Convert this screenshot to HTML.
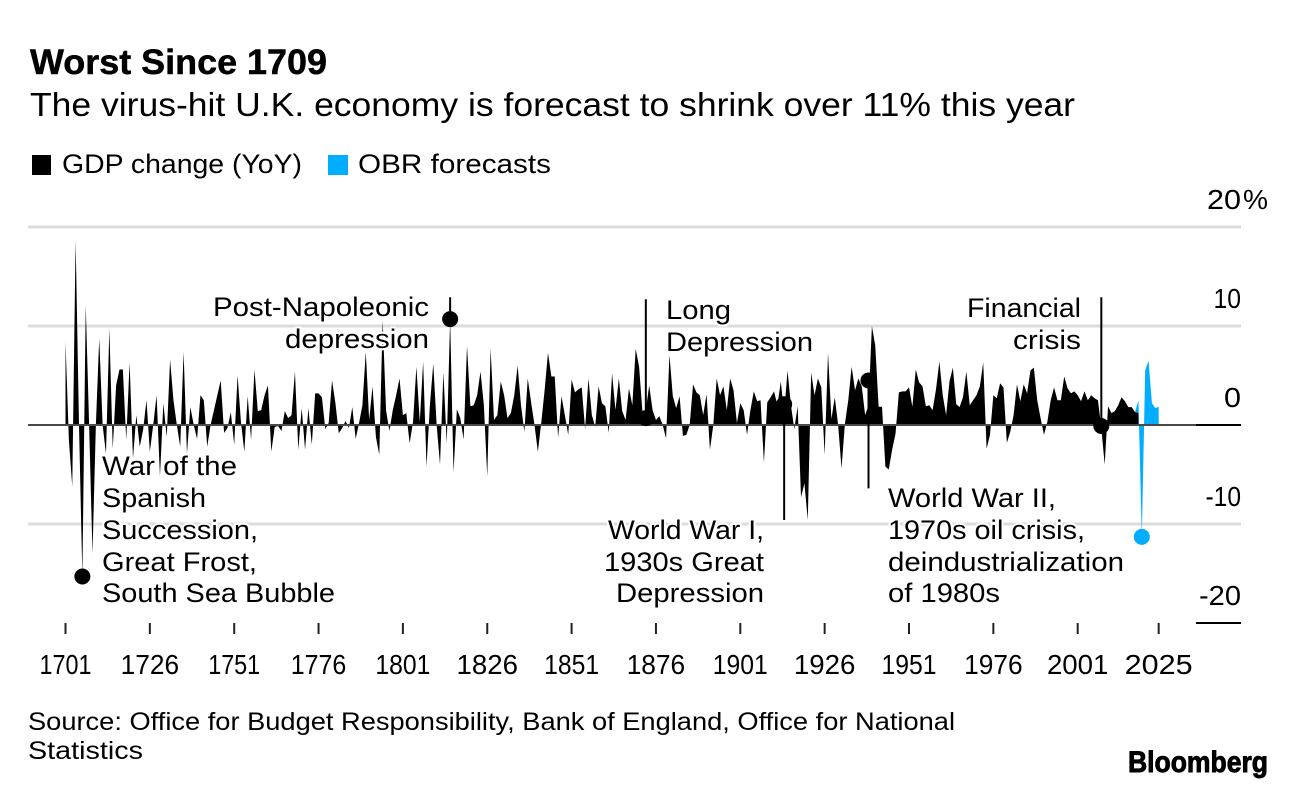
<!DOCTYPE html>
<html lang="en">
<head>
<meta charset="utf-8">
<title>Worst Since 1709</title>
<style>
html,body{margin:0;padding:0;background:#fff;width:1296px;height:790px;overflow:hidden}
svg{display:block}
text{font-family:"Liberation Sans",sans-serif;fill:#000}
.ttl{font-size:35.5px;font-weight:700;stroke:#000;stroke-width:.5px}
.sub{font-size:33px}
.lab{font-size:27px}
.tick{font-size:28px}
.src{font-size:25px}
.ann{font-size:27px;paint-order:stroke;stroke:#fff;stroke-width:4px;stroke-linejoin:round}
.logo{font-size:30px;font-weight:700;stroke:#000;stroke-width:.9px}
</style>
</head>
<body>
<svg id="chart" width="1296" height="790" viewBox="0 0 1296 790" xmlns="http://www.w3.org/2000/svg">
  <text class="ttl" x="30" y="74" textLength="297" lengthAdjust="spacingAndGlyphs">Worst Since 1709</text>
  <text class="sub" x="30" y="116" textLength="1045" lengthAdjust="spacingAndGlyphs">The virus-hit U.K. economy is forecast to shrink over 11% this year</text>

  <rect x="32" y="155" width="19" height="20" fill="#000"/>
  <text class="lab" x="62" y="173" textLength="240" lengthAdjust="spacingAndGlyphs">GDP change (YoY)</text>
  <rect x="328" y="155" width="20" height="20" fill="#00adff"/>
  <text class="lab" x="358" y="173" textLength="193" lengthAdjust="spacingAndGlyphs">OBR forecasts</text>

  <g id="grid"></g>
  <g id="marks"></g>
  <g id="xaxis"></g>
  <g id="yaxis"></g>
  <g id="notes"></g>

  <g text-anchor="end">
    <text class="ann" x="429" y="316" textLength="216" lengthAdjust="spacingAndGlyphs">Post-Napoleonic</text>
    <text class="ann" x="429" y="348" textLength="144" lengthAdjust="spacingAndGlyphs">depression</text>
  </g>
  <g>
    <text class="ann" x="666" y="319" textLength="65" lengthAdjust="spacingAndGlyphs">Long</text>
    <text class="ann" x="666" y="351" textLength="147" lengthAdjust="spacingAndGlyphs">Depression</text>
  </g>
  <g text-anchor="end">
    <text class="ann" x="1081" y="317" textLength="114" lengthAdjust="spacingAndGlyphs">Financial</text>
    <text class="ann" x="1081" y="349" textLength="68" lengthAdjust="spacingAndGlyphs">crisis</text>
  </g>
  <g>
    <text class="ann" x="102" y="475" textLength="135" lengthAdjust="spacingAndGlyphs">War of the</text>
    <text class="ann" x="102" y="507" textLength="104" lengthAdjust="spacingAndGlyphs">Spanish</text>
    <text class="ann" x="102" y="539" textLength="156" lengthAdjust="spacingAndGlyphs">Succession,</text>
    <text class="ann" x="102" y="571" textLength="155" lengthAdjust="spacingAndGlyphs">Great Frost,</text>
    <text class="ann" x="102" y="602" textLength="233" lengthAdjust="spacingAndGlyphs">South Sea Bubble</text>
  </g>
  <g text-anchor="end">
    <text class="ann" x="764" y="539" textLength="156" lengthAdjust="spacingAndGlyphs">World War I,</text>
    <text class="ann" x="764" y="571" textLength="160" lengthAdjust="spacingAndGlyphs">1930s Great</text>
    <text class="ann" x="764" y="602" textLength="148" lengthAdjust="spacingAndGlyphs">Depression</text>
  </g>
  <g>
    <text class="ann" x="888" y="507" textLength="168" lengthAdjust="spacingAndGlyphs">World War II,</text>
    <text class="ann" x="888" y="539" textLength="197" lengthAdjust="spacingAndGlyphs">1970s oil crisis,</text>
    <text class="ann" x="888" y="571" textLength="236" lengthAdjust="spacingAndGlyphs">deindustrialization</text>
    <text class="ann" x="888" y="602" textLength="112" lengthAdjust="spacingAndGlyphs">of 1980s</text>
  </g>

  <text class="src" x="28" y="730" textLength="927" lengthAdjust="spacingAndGlyphs">Source: Office for Budget Responsibility, Bank of England, Office for National</text>
  <text class="src" x="28" y="759" textLength="115" lengthAdjust="spacingAndGlyphs">Statistics</text>
  <text class="logo" x="1128" y="772" textLength="140" lengthAdjust="spacingAndGlyphs">Bloomberg</text>
</svg>
<script>
// Data
const startYear = 1701;
const gdpChange = [
  8.4,-1.5,-6.2,18.7,0,-15.3,12.1,0,-13,0,
  8.75,0,-2.9,9.76,-2.4,4,5.6,5.6,-1.5,6.3,
  -3.4,1,-2.2,-0.5,2.5,-2.7,0,3,-5.2,2.2,
  -1.2,6.6,2.5,0,-2.2,7.4,-2.9,1.8,0,-1.4,
  3,2.5,-2.2,0,1.5,3,4.5,-0.8,-0.3,1.3,
  -2,5,0.3,-2.7,2.9,-1.5,5.6,1.4,1.5,3,
  4,-2.7,-0.2,-0.1,-0.6,1.4,0.7,1,5.4,-2.5,
  1.7,-2.5,1.7,-2,3.2,3.2,2.8,-0.4,0.2,4.5,
  2.2,-0.85,-0.3,0.4,-0.3,1.8,-1.4,0.2,2,7.4,
  0.5,3.9,-1.2,-3,10.6,1.5,-0.6,1.5,3,4.7,
  1,1.2,-1.85,0.3,5.9,0.3,6.4,-4.2,2,6.2,
  0,-4,5.3,-1.9,10.7,-4.8,1.6,0.7,-1.45,8,
  1.9,2,3,5.4,2,-5.2,7.7,0.5,1,4.4,
  3,0.7,1.2,3,6,2,-0.7,4.7,2.3,0,
  -2.7,0.2,3.5,7.3,4.9,4.9,-1.3,2.9,1,-1,
  4.6,3.3,3.6,3.8,-0.4,4.7,1,-0.2,3.9,2.2,
  1.9,-0.8,5.2,1.5,4.7,1.4,0.5,3.7,2,7.7,
  5.9,1.3,1.5,4,1.5,0.5,0.9,0,-1.35,7.1,
  2.9,1.7,2.9,-1.1,-1,0,4.1,3.3,3,1,
  3.1,-2.5,0,4.7,3,3.9,1.5,4.7,3.5,0.2,
  2.2,1.5,-1,1.5,3.4,2.4,2.5,-3.8,2.3,2.8,
  3.4,2,4.4,1.2,5.5,2,-0.4,1.9,-7.3,-5.9,
  -9.6,5.3,3,4.7,3.8,-3,7.3,0.6,2.8,0,
  -4.4,0.1,2.5,5.9,3.5,4.7,3.9,1,2,10,
  8,1.85,1.85,-4.2,-4.5,-2.5,-0.9,3.3,3.4,3.4,
  3.8,1.85,5.6,4.3,3.9,1.9,2,1.5,3.6,6.4,
  3,1,4.4,5.8,2.1,1.8,2.8,5.4,2,2.5,
  3,3.9,6.3,-2.4,-1,3,2.7,4.2,3.8,-1.8,
  -0.7,1,4.1,2.4,4.1,3.2,5.5,5.8,2.5,0.7,
  -1,0.3,2.5,3.8,2.5,2.5,4.9,3.7,3.2,3.4,
  3,2.4,3.4,2.5,3,2.7,2.5,-0.3,-4,1.9,
  1.2,1.4,2,2.8,2.4,1.8,1.8,1.3,1.2
];
const forecastStartYear = 2018;
const obrForecast = [1.3,2.5,-11.3,5.5,6.5,2.2,1.7,1.85];
const xTickYears = [1701,1726,1751,1776,1801,1826,1851,1876,1901,1926,1951,1976,2001,2025];
const yTickValues = [20,10,0,-10,-20];
const yGridValues = [20,10,-10];
const noteNames = ['spanish-succession','post-napoleonic','long-depression','world-war-one','world-war-two','financial-crisis'];
const noteYears = [1706,1815,1873,1914,1939,2008];
const noteValues = [-15.3,10.7,0.7,2.1,4.5,-0.1];
const noteLeaderEnds = [-15.3,12.9,12.7,-9.6,-6.4,12.9];
const forecastDotYear = 2020;
const forecastDotValue = -11.3;

// Axis functions
const x = year => 65.5 + (year - 1701) * 3.374;
const y = value => 425 - value * 9.9;

// The reference face has a narrow "1" and "7"; size numeric labels to suit
function labelWidth(str) {
  let w = 0;
  for (const c of str) {
    w += c === '1' ? 10.5 : c === '7' ? 14 : c === '-' ? 8 : 17;
  }
  return w;
}

const NS = 'http://www.w3.org/2000/svg';
function add(parentId, tag, attrs, text) {
  const el = document.createElementNS(NS, tag);
  for (const k in attrs) el.setAttribute(k, attrs[k]);
  if (text !== undefined) el.textContent = text;
  document.getElementById(parentId).appendChild(el);
  return el;
}
function areaPath(firstYear, values) {
  let d = 'M' + x(firstYear).toFixed(2) + ' ' + y(0);
  values.forEach((v, i) => { d += 'L' + x(firstYear + i).toFixed(2) + ' ' + y(v).toFixed(2); });
  d += 'L' + x(firstYear + values.length - 1).toFixed(2) + ' ' + y(0) + 'Z';
  return d;
}

// Gridlines
yGridValues.forEach(v => {
  const g = add('grid', 'line', {x1: 28, x2: 1241, y1: y(v), y2: y(v), stroke: '#dcdcdc', 'stroke-width': 3});
  
  
});

// Series
const blue = add('marks', 'path', {d: areaPath(forecastStartYear, obrForecast), fill: '#00adff'});


const black = add('marks', 'path', {d: areaPath(startYear, gdpChange), fill: '#000'});



// Zero line and domain stubs
const zero = add('marks', 'line', {x1: 28, x2: 1241, y1: y(0), y2: y(0), stroke: '#4a4a4a', 'stroke-width': 2});


const zeroStub = add('marks', 'line', {x1: 1196, x2: 1241, y1: y(0), y2: y(0), stroke: '#000', 'stroke-width': 2});


const baseStub = add('marks', 'line', {x1: 1196, x2: 1241, y1: y(-20), y2: y(-20), stroke: '#000', 'stroke-width': 2});



// X axis
xTickYears.forEach(yr => {
  const t = add('xaxis', 'line', {x1: x(yr), x2: x(yr), y1: 623, y2: 634, stroke: '#222', 'stroke-width': 2});
  
  
  const label = String(yr);
  const l = add('xaxis', 'text', {x: x(yr), y: 674, 'text-anchor': 'middle', class: 'tick', textLength: labelWidth(label), lengthAdjust: 'spacingAndGlyphs'}, label);
  
  
});

// Y axis
yTickValues.forEach(v => {
  const label = String(v);
  const l = add('yaxis', 'text', {x: 1241, y: y(v) - 18, 'text-anchor': 'end', class: 'tick', textLength: labelWidth(label), lengthAdjust: 'spacingAndGlyphs'}, label);
  
  
  if (v === 20) {
    const p = add('yaxis', 'text', {x: 1243, y: y(v) - 18, class: 'tick', textLength: 25, lengthAdjust: 'spacingAndGlyphs'}, '%');
    
    
  }
});

// Annotation leaders and dots
noteYears.forEach((yr, i) => {
  const lead = add('notes', 'line', {x1: x(yr), x2: x(yr), y1: y(noteValues[i]), y2: y(noteLeaderEnds[i]), stroke: '#000', 'stroke-width': 2});
  
  
  const dot = add('notes', 'circle', {cx: x(yr), cy: y(noteValues[i]), r: 8, fill: '#000'});
  
  
});
const fdot = add('notes', 'circle', {cx: x(forecastDotYear), cy: y(forecastDotValue), r: 8, fill: '#00adff'});


</script>
</body>
</html>
